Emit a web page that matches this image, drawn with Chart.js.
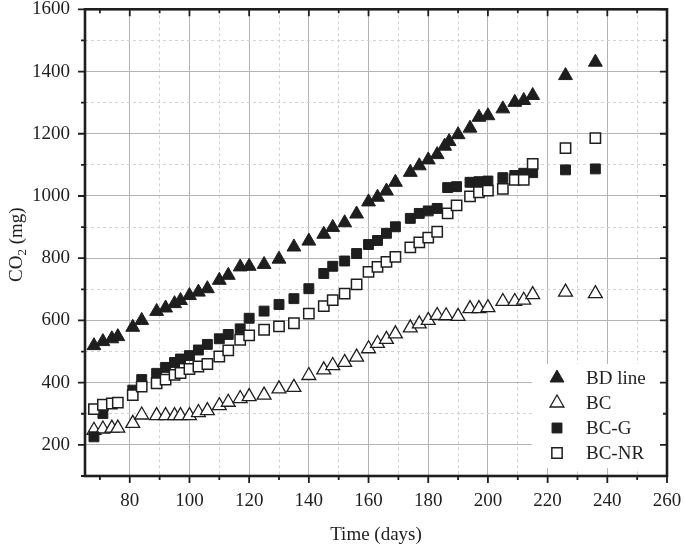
<!DOCTYPE html>
<html>
<head>
<meta charset="utf-8">
<script src="https://cdn.jsdelivr.net/npm/chart.js@4.4.0/dist/chart.umd.min.js"></script>
<style>
  html, body { margin: 0; padding: 0; background: #fff; }
  #wrap { width: 685px; height: 547px; }
</style>
</head>
<body>
<div id="wrap"><canvas id="chart" width="685" height="547"></canvas></div>
<script>
// ---- data (days, mg CO2) ----
const bdDays = [68, 71, 74, 76, 81, 84, 89, 92, 95, 97, 100, 103, 106, 110, 113, 117, 120, 125, 130, 135, 140, 145, 148, 152, 156, 160, 163, 166, 169, 174, 177, 180, 183, 185.5, 187, 190, 194, 197, 200, 205, 209, 212, 215, 226, 236];
const bdCO2 = [519, 532, 541, 548, 578, 600, 629, 640, 654, 664, 680, 691, 702, 729, 745, 772, 774, 780, 797, 836, 855, 877, 899, 914, 942, 981, 996, 1016, 1044, 1076, 1097, 1116, 1133, 1160, 1175, 1197, 1218, 1253, 1258, 1280, 1301, 1307, 1323, 1387, 1430];

const bcDays = [68, 71, 74, 76, 81, 84, 89, 92, 95, 97, 100, 103, 106, 110, 113, 117, 120, 125, 130, 135, 140, 145, 148, 152, 156, 160, 163, 166, 169, 174, 177, 180, 183, 186, 190, 194, 197, 200, 205, 209, 212, 215, 226, 236];
const bcCO2 = [247, 251, 254, 254, 269, 296, 294, 294, 294, 294, 294, 304, 310, 326, 337, 349, 355, 360, 380, 385, 423, 441, 455, 465, 482, 509, 526, 539, 557, 576, 589, 600, 616, 615, 613, 638, 638, 641, 661, 661, 665, 683, 691, 686];

const bcgDays = [68, 71, 81, 84, 89, 92, 95, 97, 100, 103, 106, 110, 113, 117, 120, 125, 130, 135, 140, 145, 148, 152, 156, 160, 163, 166, 169, 174, 177, 180, 183, 186.5, 189.5, 194, 197, 200, 205, 209, 212, 215, 226, 236];
const bcgCO2 = [226, 301, 376, 410, 430, 449, 465, 476, 487, 505, 523, 541, 555, 573, 607, 630, 651, 670, 702, 751, 774, 791, 815, 844, 857, 880, 901, 928, 944, 952, 960, 1027, 1030, 1044, 1046, 1048, 1059, 1066, 1073, 1075, 1084, 1087];

const bcnrDays = [68, 71, 74, 76, 81, 84, 89, 92, 95, 97, 100, 103, 106, 110, 113, 117, 120, 125, 130, 135, 140, 145, 148, 152, 156, 160, 163, 166, 169, 174, 177, 180, 183, 186.5, 189.5, 194, 197, 200, 205, 209, 212, 215, 226, 236];
const bcnrCO2 = [315, 329, 333, 336, 360, 387, 398, 410, 425, 431, 444, 452, 460, 484, 504, 538, 552, 570, 581, 591, 622, 646, 665, 686, 716, 756, 772, 788, 804, 835, 851, 866, 885, 944, 970, 999, 1012, 1017, 1023, 1052, 1052, 1103, 1154, 1186];

// tick labels
const xTicks = [80, 100, 120, 140, 160, 180, 200, 220, 240, 260];
const yTicks = [200, 400, 600, 800, 1000, 1200, 1400, 1600];

const FONT = "'Liberation Serif', 'Times New Roman', serif";
const INK = '#1e1e1e';
const MAJOR_GRID = '#b4b4b4';
const MINOR_GRID = '#d2d2d2';

function pts(xs, ys) {
    return xs.map((x, i) => ({ x: x, y: ys[i] }));
}

// major grid solid, minor grid dashed, anything else hidden
function gridColor(major, minor) {
    return (ctx) => {
        const v = ctx.tick ? ctx.tick.value : null;
        if (v === null) return 'rgba(0,0,0,0)';
        if (v % major === 0) return MAJOR_GRID;
        if (v % minor === 0) return MINOR_GRID;
        return 'rgba(0,0,0,0)';
    };
}
function gridDash(major) {
    return (ctx) => (ctx.tick && ctx.tick.value % major !== 0) ? [3, 3] : [];
}

// ---- legend inside the plot (white box, bottom right) ----
const legendBox = {
    id: 'legendBox',
    beforeDatasetsDraw(chart) {
        const ctx = chart.ctx;
        const a = chart.chartArea;
        ctx.save();
        ctx.fillStyle = '#fff';
        ctx.fillRect(a.right - 135, a.bottom - 112, 135, 104);

        chart.data.datasets.forEach((ds, i) => {
            const cx = a.right - 110;
            const cy = a.bottom - 98 + i * 25;
            const r = ds.pointRadius;
            ctx.beginPath();
            if (ds.pointStyle === 'triangle') {
                ctx.moveTo(cx, cy - r);
                ctx.lineTo(cx + r * Math.sin(2 * Math.PI / 3), cy - r * Math.cos(2 * Math.PI / 3));
                ctx.lineTo(cx + r * Math.sin(4 * Math.PI / 3), cy - r * Math.cos(4 * Math.PI / 3));
                ctx.closePath();
            } else {
                const s = r * Math.SQRT1_2;
                ctx.rect(cx - s, cy - s, 2 * s, 2 * s);
            }
            ctx.fillStyle = ds.backgroundColor;
            ctx.fill();
            ctx.lineWidth = ds.borderWidth;
            ctx.strokeStyle = ds.borderColor;
            ctx.stroke();

            ctx.fillStyle = INK;
            ctx.font = '19px ' + FONT;
            ctx.textAlign = 'left';
            ctx.textBaseline = 'middle';
            ctx.fillText(ds.label, a.right - 81, cy + 1);
        });
        ctx.restore();
    }
};

// ---- frame with ticks: out on bottom/left, in on top/right ----
const frameTicks = {
    id: 'frameTicks',
    afterDatasetsDraw(chart) {
        const ctx = chart.ctx;
        const a = chart.chartArea;
        const xs = chart.scales.x;
        const ys = chart.scales.y;
        ctx.save();
        ctx.strokeStyle = INK;
        ctx.lineWidth = 1.8;
        ctx.beginPath();
        for (let v = 70; v <= 260; v += 10) {
            const px = xs.getPixelForValue(v);
            const len = v % 20 === 0 ? 7 : 4;
            ctx.moveTo(px, a.bottom); ctx.lineTo(px, a.bottom + len);
            ctx.moveTo(px, a.top); ctx.lineTo(px, a.top + len);
        }
        for (let v = 100; v <= 1600; v += 100) {
            const py = ys.getPixelForValue(v);
            const len = v % 200 === 0 ? 7 : 4;
            ctx.moveTo(a.left - len, py); ctx.lineTo(a.left, py);
            ctx.moveTo(a.right - len, py); ctx.lineTo(a.right, py);
        }
        ctx.stroke();
        ctx.lineWidth = 2.6;
        ctx.strokeRect(a.left, a.top, a.right - a.left, a.bottom - a.top);
        ctx.restore();
    }
};

// ---- y title with a real subscript ----
const yTitle = {
    id: 'yTitle',
    afterDraw(chart) {
        const ctx = chart.ctx;
        const a = chart.chartArea;
        const big = '19px ' + FONT;
        const small = '13px ' + FONT;
        ctx.save();
        ctx.translate(16, (a.top + a.bottom) / 2 + 2);
        ctx.rotate(-Math.PI / 2);
        ctx.fillStyle = INK;
        ctx.textAlign = 'left';
        ctx.textBaseline = 'alphabetic';
        ctx.font = big;
        const w1 = ctx.measureText('CO').width;
        const w3 = ctx.measureText(' (mg)').width;
        ctx.font = small;
        const w2 = ctx.measureText('2').width;
        let x = -(w1 + w2 + w3) / 2;
        const base = 6;
        ctx.font = big; ctx.fillText('CO', x, base); x += w1;
        ctx.font = small; ctx.fillText('2', x, base + 4); x += w2;
        ctx.font = big; ctx.fillText(' (mg)', x, base);
        ctx.restore();
    }
};

new Chart(document.getElementById('chart').getContext('2d'), {
    type: 'scatter',
    data: {
        datasets: [
            {
                label: 'BD line', data: pts(bdDays, bdCO2), order: 3,
                pointStyle: 'triangle', pointRadius: 8,
                backgroundColor: INK, borderColor: INK, borderWidth: 1
            },
            {
                label: 'BC', data: pts(bcDays, bcCO2), order: 2,
                pointStyle: 'triangle', pointRadius: 8,
                backgroundColor: '#fff', borderColor: INK, borderWidth: 1.3
            },
            {
                label: 'BC-G', data: pts(bcgDays, bcgCO2), order: 1,
                pointStyle: 'rect', pointRadius: 7,
                backgroundColor: INK, borderColor: INK, borderWidth: 1
            },
            {
                label: 'BC-NR', data: pts(bcnrDays, bcnrCO2), order: 0,
                pointStyle: 'rect', pointRadius: 7.3,
                backgroundColor: '#fff', borderColor: INK, borderWidth: 1.5
            }
        ]
    },
    options: {
        responsive: false,
        animation: false,
        devicePixelRatio: 1,
        layout: { padding: { top: 8, right: 18, left: 0, bottom: 0 } },
        plugins: { legend: { display: false }, tooltip: { enabled: false } },
        scales: {
            x: {
                type: 'linear', min: 65, max: 260,
                ticks: {
                    stepSize: 10, autoSkip: false, maxRotation: 0, padding: 14,
                    color: INK, font: { family: FONT, size: 19 },
                    callback: (v) => xTicks.includes(v) ? String(v) : ''
                },
                grid: { drawTicks: false, color: gridColor(20, 10), lineWidth: 1 },
                border: { display: false, dash: gridDash(20) },
                title: {
                    display: true, text: 'Time (days)', color: INK,
                    font: { family: FONT, size: 19 }, padding: { top: 0, bottom: 1 }
                },
                afterFit: (s) => { s.height = 71; s.paddingLeft = 0; s.paddingRight = 0; }
            },
            y: {
                min: 100, max: 1600,
                ticks: {
                    stepSize: 100, autoSkip: false, padding: 15,
                    color: INK, font: { family: FONT, size: 19 },
                    callback: (v) => yTicks.includes(v) ? String(v) : ''
                },
                grid: { drawTicks: false, color: gridColor(200, 100), lineWidth: 1 },
                border: { display: false, dash: gridDash(200) },
                afterFit: (s) => { s.width = 85; s.paddingTop = 0; s.paddingBottom = 0; }
            }
        }
    },
    plugins: [legendBox, frameTicks, yTitle]
});
</script>
</body>
</html>
